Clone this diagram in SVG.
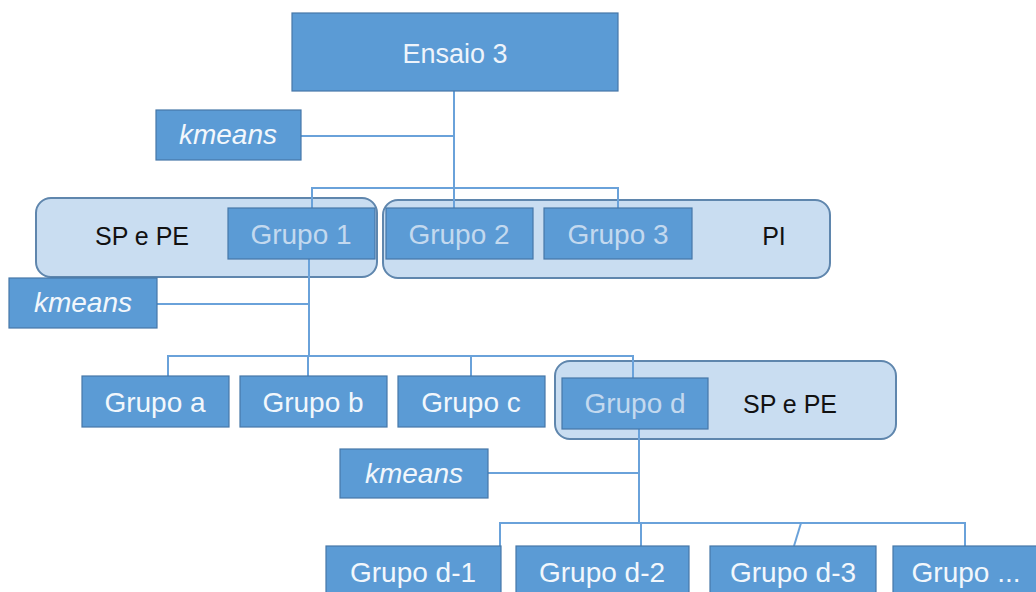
<svg xmlns="http://www.w3.org/2000/svg" width="1036" height="592" viewBox="0 0 1036 592">
  <style>
    .box { fill: #5b9bd5; stroke: #4677a8; stroke-width: 1.2; }
    .group { fill: #c9ddf1; stroke: #5f86ad; stroke-width: 2; }
    .link { fill: none; stroke: #6aa2da; stroke-width: 2; }
    text { font-family: "Liberation Sans", Arial, sans-serif; text-anchor: middle; }
    .lbl { font-size: 28px; fill: #f2f7fc; }
    .dim { font-size: 28px; fill: #c3d9ef; }
    .km { font-size: 28px; font-style: italic; fill: #f2f7fc; }
    .tag { font-size: 25px; fill: #111111; }
    .title { font-size: 27px; fill: #eef4fb; }
  </style>

  <!-- rounded containers -->
  <g id="container-sp-pe-1">
    <rect class="group" x="36" y="198" width="341" height="79" rx="15"/>
    <text class="tag" x="142" y="245">SP e PE</text>
  </g>
  <g id="container-pi">
    <rect class="group" x="383" y="200" width="447" height="78" rx="15"/>
    <text class="tag" x="774" y="245">PI</text>
  </g>
  <g id="container-sp-pe-2">
    <rect class="group" x="555" y="361" width="341" height="78" rx="15"/>
    <text class="tag" x="790" y="413">SP e PE</text>
  </g>

  <!-- connectors -->
  <g id="connectors">
    <path class="link" d="M454 91 V208"/>
    <path class="link" d="M301 136 H454"/>
    <path class="link" d="M312 208 V188 H618 V208"/>
    <path class="link" d="M309 259 V356"/>
    <path class="link" d="M157 304 H309"/>
    <path class="link" d="M168 376 V356 H633 V378"/>
    <path class="link" d="M308 356 V376"/>
    <path class="link" d="M471 356 V376"/>
    <path class="link" d="M639 429 V523"/>
    <path class="link" d="M488 473 H639"/>
    <path class="link" d="M500 546 V523 H965 V546"/>
    <path class="link" d="M641 523 V546"/>
    <path class="link" d="M801 523 L794 546"/>
  </g>

  <g id="ensaio-3">
    <rect class="box" x="292" y="13" width="326" height="78"/>
    <text class="title" x="455" y="63">Ensaio 3</text>
  </g>

  <g id="kmeans-1">
    <rect class="box" x="156" y="110" width="145" height="50"/>
    <text class="km" x="228" y="144">kmeans</text>
  </g>

  <g id="grupo-1">
    <rect class="box" x="228" y="208" width="147" height="51"/>
    <text class="dim" x="301" y="244">Grupo 1</text>
  </g>
  <g id="grupo-2">
    <rect class="box" x="386" y="208" width="147" height="51"/>
    <text class="dim" x="459" y="244">Grupo 2</text>
  </g>
  <g id="grupo-3">
    <rect class="box" x="544" y="208" width="148" height="51"/>
    <text class="dim" x="618" y="244">Grupo 3</text>
  </g>

  <g id="kmeans-2">
    <rect class="box" x="9" y="278" width="148" height="50"/>
    <text class="km" x="83" y="312">kmeans</text>
  </g>

  <g id="grupo-a">
    <rect class="box" x="82" y="376" width="147" height="51"/>
    <text class="lbl" x="155" y="412">Grupo a</text>
  </g>
  <g id="grupo-b">
    <rect class="box" x="240" y="376" width="147" height="51"/>
    <text class="lbl" x="313" y="412">Grupo b</text>
  </g>
  <g id="grupo-c">
    <rect class="box" x="398" y="376" width="147" height="51"/>
    <text class="lbl" x="471" y="412">Grupo c</text>
  </g>
  <g id="grupo-d">
    <rect class="box" x="562" y="378" width="146" height="51"/>
    <text class="dim" x="635" y="413">Grupo d</text>
  </g>

  <g id="kmeans-3">
    <rect class="box" x="340" y="449" width="148" height="49"/>
    <text class="km" x="414" y="483">kmeans</text>
  </g>

  <g id="grupo-d-1">
    <rect class="box" x="326" y="546" width="175" height="52"/>
    <text class="lbl" x="413" y="582">Grupo d-1</text>
  </g>
  <g id="grupo-d-2">
    <rect class="box" x="516" y="546" width="173" height="52"/>
    <text class="lbl" x="602" y="582">Grupo d-2</text>
  </g>
  <g id="grupo-d-3">
    <rect class="box" x="710" y="546" width="166" height="52"/>
    <text class="lbl" x="793" y="582">Grupo d-3</text>
  </g>
  <g id="grupo-etc">
    <rect class="box" x="893" y="546" width="160" height="52"/>
    <text class="lbl" x="966" y="582">Grupo ...</text>
  </g>
</svg>
